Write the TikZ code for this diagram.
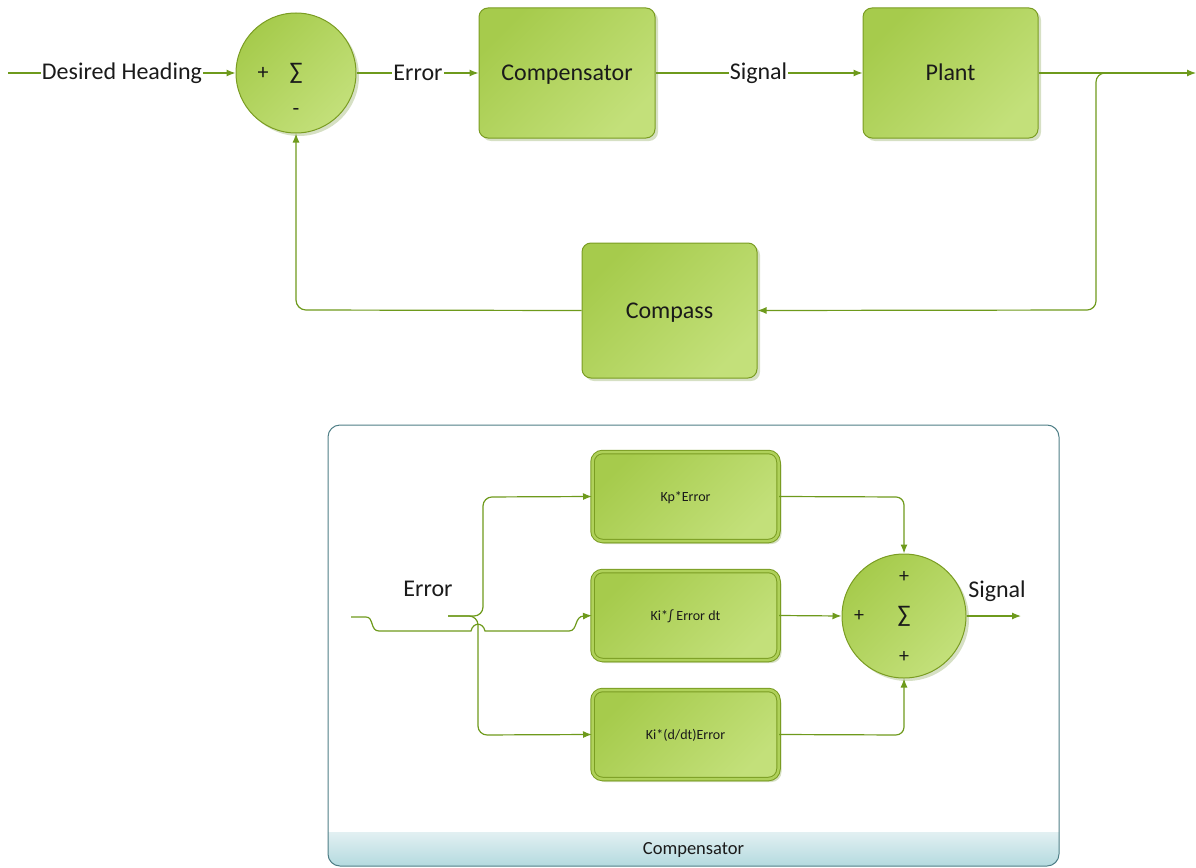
\documentclass[tikz,border=0pt]{standalone}
\usepackage{fontspec}
\setmainfont{Carlito}
\usetikzlibrary{arrows.meta,shadows}
\definecolor{gA}{HTML}{A6CB4C}
\definecolor{gB}{HTML}{C3E07A}
\definecolor{bord}{HTML}{7A9C22}
\definecolor{ln}{HTML}{6E9A1C}
\definecolor{shd}{HTML}{D6E0C4}
\definecolor{txt}{HTML}{1A1A1A}
\definecolor{panelc}{HTML}{4E7E86}
\definecolor{tA}{HTML}{E2F0F2}
\definecolor{tB}{HTML}{B4DADF}
\begin{document}
\begin{tikzpicture}[x=1pt,y=-1pt,
  greenbox/.style={draw=bord, line width=1pt, rounded corners=9pt,
    top color=gA, bottom color=gB, shading angle=45,
    drop shadow={shadow xshift=3pt, shadow yshift=-3pt, fill=shd, opacity=1},
    text=txt, font=\fontsize{24}{28}\selectfont, inner sep=0pt,
    text height=15.5pt, text depth=0pt},
  dblbox/.style={draw=bord, line width=1pt, double=gA!70!gB, double distance=2.5pt,
    rounded corners=10pt, top color=gA, bottom color=gB, shading angle=45,
    drop shadow={shadow xshift=3pt, shadow yshift=-3pt, fill=shd, opacity=1},
    text=txt, font=\fontsize{14}{17}\selectfont, inner sep=0pt,
    text height=9pt, text depth=0pt,
    minimum width=186pt, minimum height=89pt},
  sumnode/.style={circle, draw=bord, line width=1pt,
    top color=gA, bottom color=gB, shading angle=45,
    drop shadow={shadow xshift=3pt, shadow yshift=-3pt, fill=shd, opacity=1},
    inner sep=0pt},
  sym/.style={text=txt, inner sep=0pt, font=\fontsize{22}{24}\selectfont},
  sigma/.style={text=txt, inner sep=0pt, font=\fontsize{24}{28}\selectfont},
  lbl/.style={text=txt, inner sep=1pt, font=\fontsize{24}{28}\selectfont},
  conn/.style={draw=ln, line width=1.2pt},
  arr/.style={conn, -{Latex[length=9pt,width=7pt]}}
]
\useasboundingbox (0,0) rectangle (1196,867);

% ---------- top loop ----------
\coordinate (in) at (8,73);
\node[lbl] (dh) at (122,73) {Desired Heading};
\node[sumnode, minimum size=120pt] (s1) at (296,73) {};
\node[sym] (s1p) at (263,73) {+};
\node[sigma] (s1s) at (296,73) {∑};
\node[sym] (s1m) at (296,112) {-};
\node[lbl] (err1) at (418,73) {Error};
\node[greenbox, minimum width=176pt, minimum height=130pt] (comp) at (567,73) {Compensator};
\node[lbl] (sig1) at (758.5,73) {Signal};
\node[greenbox, minimum width=175pt, minimum height=130pt] (plant) at (950.5,73) {Plant};
\coordinate (out) at (1196,73);
\coordinate (br) at (1118,73);
\coordinate (brc) at (1096,310);
\node[greenbox, minimum width=175pt, minimum height=135pt] (compass) at (669.5,310.5) {Compass};
\coordinate (fbc) at (296,310);

\draw[conn] (in) -- (dh.west);
\draw[arr] (dh.east) -- (s1.west);
\draw[conn] (s1.east) -- (err1.west);
\draw[arr] (err1.east) -- (comp.west);
\draw[conn] (comp.east) -- (sig1.west);
\draw[arr] (sig1.east) -- (plant.west);
\draw[arr] (plant.east) -- (out);
\draw[arr, rounded corners=9pt] (br) -- (br -| brc) -- (brc) -- (compass.east);
\draw[arr, rounded corners=10pt] (compass.west) -- (fbc) -- (s1.south);

% ---------- compensator panel ----------
\begin{scope}
  \clip[rounded corners=12pt] (328,425) rectangle (1059,866);
  \shade[top color=tA, bottom color=tB] (328,832) rectangle (1059,866);
\end{scope}
\draw[panelc, line width=1pt, rounded corners=12pt] (328,425) rectangle (1059,866);
\node[text=txt, inner sep=0pt, font=\fontsize{18.5}{20}\selectfont] (ptitle) at (693.5,850) {Compensator};

\node[dblbox] (kp) at (685.5,496.5) {Kp*Error};
\node[dblbox] (ki) at (685.5,615.5) {Ki*∫ Error dt};
\node[dblbox] (kd) at (685.5,734.5) {Ki*(d/dt)Error};
\node[sumnode, minimum size=124pt] (s2) at (904,616) {};
\node[sym, font=\fontsize{20}{22}\selectfont] (s2t) at (904,577) {+};
\node[sym, font=\fontsize{20}{22}\selectfont] (s2l) at (859,616) {+};
\node[sym, font=\fontsize{20}{22}\selectfont] (s2b) at (904,657) {+};
\node[sigma] (s2s) at (904,616) {∑};
\node[text=txt, inner sep=0pt, font=\fontsize{24}{28}\selectfont] (err2) at (428,589) {Error};
\node[text=txt, inner sep=0pt, font=\fontsize{24}{28}\selectfont] (sig2) at (997,591) {Signal};
\coordinate (in2) at (351,617);
\coordinate (e2) at (448,616);
\coordinate (out2) at (1021,616);

\draw[arr] (in2) -- (366,617) .. controls (374,617) and (370,631) .. (379,631)
  -- (471,631) .. controls (473,622) and (483,622) .. (485,631)
  -- (569,631) .. controls (578,631) and (574,616) .. (584,616) -- (ki.west);
\draw[arr, rounded corners=9pt] (e2) -- (483,616) -- (483,497) -- (kp.west);
\draw[arr, rounded corners=9pt] (e2) -- (478,616) -- (478,735) -- (kd.west);
\draw[arr, rounded corners=8pt] (kp.east) -- (904,497) -- (s2.north);
\draw[arr] (ki.east) -- (s2.west);
\draw[arr, rounded corners=8pt] (kd.east) -- (904,735) -- (s2.south);
\draw[arr] (s2.east) -- (out2);
\end{tikzpicture}
\end{document}
